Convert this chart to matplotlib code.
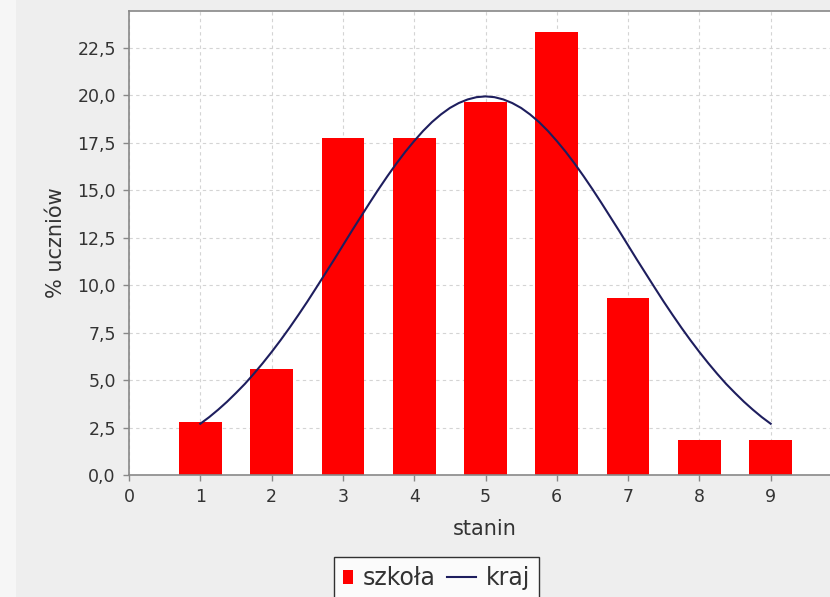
import matplotlib
matplotlib.use('Agg')
import matplotlib.pyplot as plt
from matplotlib.patches import Rectangle
from matplotlib.lines import Line2D
from matplotlib.legend_handler import HandlerBase

# Dane: odsetek uczniów szkoły w staninach
stanin = [1, 2, 3, 4, 5, 6, 7, 8, 9]
szkola = [2.80, 5.61, 17.76, 17.76, 19.63, 23.36, 9.35, 1.87, 1.87]

# Krzywa krajowa (co 0.125 stanina)
kraj_x = [1.0 + 0.125 * i for i in range(65)]
kraj_y = [2.70, 3.05, 3.44, 3.86, 4.32, 4.80, 5.33, 5.89, 6.48, 7.10, 7.75,
          8.43, 9.13, 9.86, 10.60, 11.34, 12.10, 12.86, 13.60, 14.34, 15.06,
          15.75, 16.41, 17.03, 17.60, 18.13, 18.60, 19.00, 19.34, 19.60, 19.79,
          19.91, 19.95, 19.91, 19.79, 19.60, 19.34, 19.00, 18.60, 18.13, 17.60,
          17.03, 16.41, 15.75, 15.06, 14.34, 13.60, 12.86, 12.10, 11.34, 10.60,
          9.86, 9.13, 8.43, 7.75, 7.10, 6.48, 5.89, 5.33, 4.80, 4.32, 3.86,
          3.44, 3.05, 2.70]

y_ticks = [0, 2.5, 5, 7.5, 10, 12.5, 15, 17.5, 20, 22.5]
y_labels = [f"{v:.1f}".replace('.', ',') for v in y_ticks]
x_ticks = [0, 1, 2, 3, 4, 5, 6, 7, 8, 9]

RED = '#FF0000'
NAVY = '#1E1E5E'
TXT = '#333333'

W, H = 830, 597
fig = plt.figure(figsize=(W / 100, H / 100), dpi=100)
fig.patch.set_facecolor('#EEEEEE')
# jasny pasek po lewej (zrzut ekranu)
fig.add_artist(Rectangle((0, 0), 16 / W, 1, transform=fig.transFigure,
                         facecolor='#F6F6F6', edgecolor='none', zorder=-1))

ax = fig.add_axes([129 / W, (H - 475) / H, (842 - 129) / W, (475 - 11) / H])
ax.set_facecolor('white')
ax.set_xlim(0, 10)
ax.set_ylim(0, 24.45)

ax.bar(stanin, szkola, width=0.6, color=RED, zorder=2)
ax.plot(kraj_x, kraj_y, color=NAVY, lw=1.5, zorder=3)

ax.set_xticks(x_ticks)
ax.set_xticklabels([str(v) for v in x_ticks])
ax.set_yticks(y_ticks)
ax.set_yticklabels(y_labels)
ax.tick_params(axis='both', direction='out', length=4, width=1,
               color='#888888', labelsize=12.5, labelcolor=TXT, pad=5.5)

ax.grid(True, color='#D4D4D4', linestyle=(0, (3, 3)), linewidth=0.8, zorder=0)
ax.set_axisbelow(True)

for side in ['left', 'bottom', 'top']:
    ax.spines[side].set_color('#888888')
    ax.spines[side].set_linewidth(1.2)
ax.spines['right'].set_visible(False)

ax.set_xlabel('stanin', fontsize=15, color=TXT)
ax.set_ylabel('% uczniów', fontsize=15, color=TXT)
ax.xaxis.label.set_va('baseline')
ax.yaxis.label.set_va('baseline')
ax.xaxis.set_label_coords((485 - 129) / 713, (475 - 535) / 464)
ax.yaxis.set_label_coords((62 - 129) / 713, 0.5)


class NarrowRect(HandlerBase):
    def create_artists(self, legend, orig_handle, xdescent, ydescent,
                       width, height, fontsize, trans):
        h = 10
        r = Rectangle((-xdescent, -ydescent + (height - h) / 2), width, h,
                      facecolor=RED, edgecolor='none', transform=trans)
        return [r]


class LongLine(HandlerBase):
    def create_artists(self, legend, orig_handle, xdescent, ydescent,
                       width, height, fontsize, trans):
        y = -ydescent + height / 2
        ln = Line2D([-xdescent - 13.7, -xdescent + width], [y, y],
                    color=NAVY, lw=1.5, transform=trans)
        return [ln]


h_bar = Rectangle((0, 0), 1, 1)
h_line = Line2D([0], [0])
leg = fig.legend([h_bar, h_line], ['szkoła', 'kraj'], loc='upper center',
                 bbox_to_anchor=(436.5 / W, (H - 557) / H), ncol=2,
                 frameon=True, fancybox=False, fontsize=17,
                 handler_map={h_bar: NarrowRect(), h_line: LongLine()},
                 handlelength=0.42, handleheight=0.7, handletextpad=0.42,
                 columnspacing=1.27, borderpad=0.38, borderaxespad=0)
leg.get_frame().set_edgecolor('black')
leg.get_frame().set_linewidth(1.0)
leg.get_frame().set_facecolor('white')
for t in leg.get_texts():
    t.set_color(TXT)

fig.savefig('out.png', dpi=100, facecolor=fig.get_facecolor())
